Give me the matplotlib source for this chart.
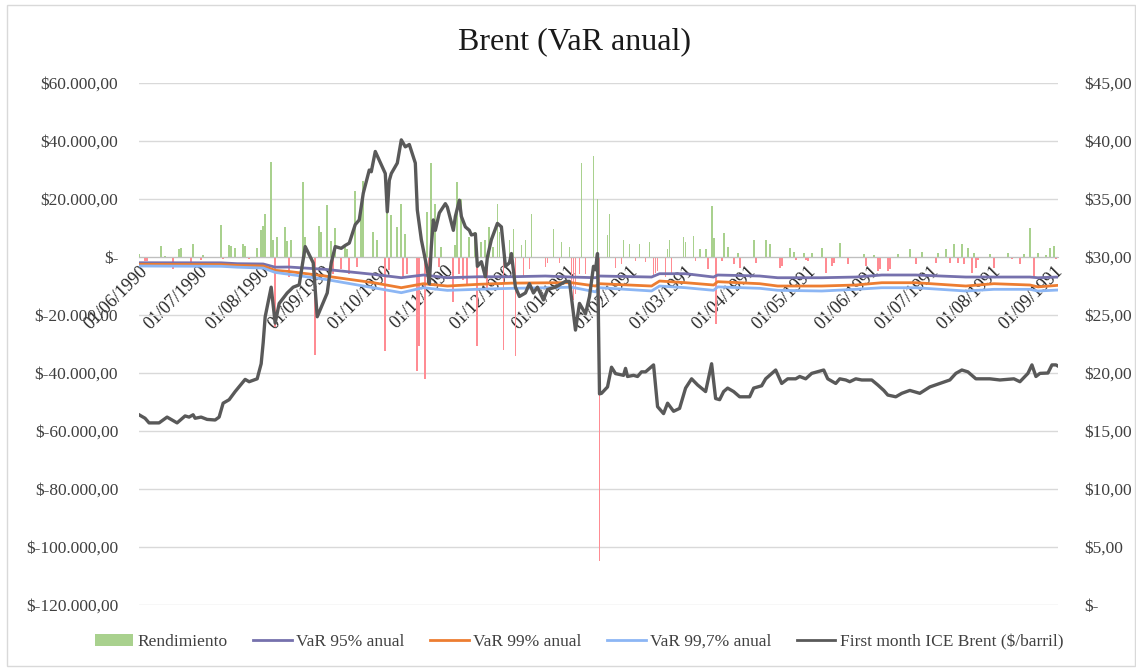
import numpy as np
import pandas as pd
import matplotlib
matplotlib.use("Agg")
import matplotlib.pyplot as plt
import matplotlib.dates as mdates
import matplotlib.ticker as mticker
from matplotlib.patches import Patch, Rectangle
from matplotlib.lines import Line2D

plt.rcParams['font.family'] = ['Liberation Serif', 'DejaVu Serif']

# daily return bars (Rendimiento)
ret_dates = [
    "1990-06-01", "1990-06-04", "1990-06-05", "1990-06-12", "1990-06-14", "1990-06-18", "1990-06-21",
    "1990-06-22", "1990-06-27", "1990-06-28", "1990-07-02", "1990-07-03", "1990-07-12", "1990-07-13",
    "1990-07-16", "1990-07-17", "1990-07-19", "1990-07-23", "1990-07-24", "1990-07-26", "1990-07-30",
    "1990-08-01", "1990-08-02", "1990-08-03", "1990-08-06", "1990-08-07", "1990-08-08", "1990-08-09",
    "1990-08-13", "1990-08-14", "1990-08-15", "1990-08-16", "1990-08-22", "1990-08-23", "1990-08-28",
    "1990-08-30", "1990-08-31", "1990-09-03", "1990-09-05", "1990-09-06", "1990-09-07", "1990-09-10",
    "1990-09-12", "1990-09-13", "1990-09-14", "1990-09-17", "1990-09-18", "1990-09-20", "1990-09-21",
    "1990-09-26", "1990-09-28", "1990-10-02", "1990-10-03", "1990-10-04", "1990-10-05", "1990-10-08",
    "1990-10-10", "1990-10-11", "1990-10-12", "1990-10-13", "1990-10-18", "1990-10-19", "1990-10-22",
    "1990-10-23", "1990-10-24", "1990-10-25", "1990-10-27", "1990-10-29", "1990-10-30", "1990-11-05",
    "1990-11-06", "1990-11-07", "1990-11-08", "1990-11-09", "1990-11-10", "1990-11-12", "1990-11-13",
    "1990-11-16", "1990-11-17", "1990-11-19", "1990-11-21", "1990-11-22", "1990-11-23", "1990-11-25",
    "1990-11-27", "1990-11-28", "1990-11-30", "1990-12-03", "1990-12-05", "1990-12-06", "1990-12-09",
    "1990-12-10", "1990-12-11", "1990-12-13", "1990-12-14", "1990-12-21", "1990-12-22", "1990-12-25",
    "1990-12-28", "1990-12-29", "1991-01-02", "1991-01-03", "1991-01-04", "1991-01-05", "1991-01-07",
    "1991-01-08", "1991-01-10", "1991-01-14", "1991-01-16", "1991-01-17", "1991-01-21", "1991-01-22",
    "1991-01-25", "1991-01-28", "1991-01-29", "1991-02-01", "1991-02-04", "1991-02-06", "1991-02-09",
    "1991-02-11", "1991-02-13", "1991-02-14", "1991-02-15", "1991-02-19", "1991-02-20", "1991-02-21",
    "1991-02-22", "1991-02-28", "1991-03-01", "1991-03-05", "1991-03-06", "1991-03-08", "1991-03-11",
    "1991-03-12", "1991-03-14", "1991-03-15", "1991-03-16", "1991-03-19", "1991-03-20", "1991-03-22",
    "1991-03-25", "1991-03-27", "1991-03-28", "1991-04-04", "1991-04-05", "1991-04-10", "1991-04-12",
    "1991-04-17", "1991-04-18", "1991-04-22", "1991-04-24", "1991-04-25", "1991-04-29", "1991-04-30",
    "1991-05-01", "1991-05-03", "1991-05-08", "1991-05-10", "1991-05-13", "1991-05-14", "1991-05-17",
    "1991-05-21", "1991-05-29", "1991-05-30", "1991-06-03", "1991-06-05", "1991-06-06", "1991-06-10",
    "1991-06-11", "1991-06-15", "1991-06-21", "1991-06-24", "1991-06-27", "1991-07-04", "1991-07-05",
    "1991-07-09", "1991-07-11", "1991-07-13", "1991-07-15", "1991-07-17", "1991-07-18", "1991-07-20",
    "1991-07-22", "1991-07-23", "1991-07-24", "1991-07-25", "1991-07-31", "1991-08-02", "1991-08-09",
    "1991-08-11", "1991-08-15", "1991-08-17", "1991-08-20", "1991-08-22", "1991-08-24", "1991-08-28",
    "1991-08-30", "1991-09-01", "1991-09-02",
]
ret_values = [
    900, -1400, -1200, 3800, 500, -4200, 2600,
    3200, -1600, 4600, -1100, 700, 10900, -800,
    4000, 3800, 3000, 4600, 3800, -700, 3000,
    9200, 10700, 14900, 32900, 5700, -24300, 6900,
    10300, 5500, -7000, 6000, 25800, 6800, -33900,
    10800, 8800, 18000, 5500, -5700, 10100, -4000,
    3800, 2600, -5700, 22700, -3400, 17200, 26300,
    8800, 6000, -32400, 19500, -4600, 14500, 10500,
    18200, -6900, 8000, -5700, -39300, -30700, -42100,
    15500, -5700, 32400, 18400, -3400, 3400, -15500,
    4000, 25900, -5700, 20100, -8000, -9200, 6900,
    8600, -30700, 5200, 5700, -10900, 10300, 3400,
    18200, 8600, -32100, 5700, 9800, -34100, 4000,
    -6900, 5700, -4000, 14700, -3400, -2000, 9800,
    -2000, 5200, 3400, -11500, -14900, -12600, -5700,
    32400, -5700, 34700, 20100, -104800, 7500, 14900,
    -3700, -2500, 5700, 4600, -1500, 4400, -1800,
    5200, -6900, -5400, -4800, -6900, 2900, 6000,
    -6000, 6900, 5200, 7200, -1500, 2600, 2600,
    -4200, 17600, 6700, -23200, -1500, 8400, 3400,
    -2300, 1500, -3700, 6000, -2000, 6000, 4600,
    -3700, -3000, 3200, 1800, -1000, 1500, -1000,
    -1500, 1500, 3000, -5400, -3100, -2200, 4900,
    -2500, 1000, -3100, 600, -4800, -4000, -4800,
    -4200, 1000, 2600, -2500, 1800, -2000, 1500,
    2600, -2000, 4400, -2000, 4400, -2500, 3000,
    -5400, 1500, -3700, -1000, 1000, -3700, 1500,
    -800, -2300, 1000, 10100, -7100, 1500, 700,
    3000, 3800, -800,
]

# annual VaR lines
var_dates = [
    "1990-06-01", "1990-07-12", "1990-07-20", "1990-08-02", "1990-08-08", "1990-08-15", "1990-09-02",
    "1990-09-26", "1990-10-10", "1990-10-21", "1990-11-02", "1990-11-18", "1990-12-04", "1990-12-21",
    "1991-01-03", "1991-01-15", "1991-01-17", "1991-02-12", "1991-02-16", "1991-03-01", "1991-03-15",
    "1991-03-17", "1991-04-07", "1991-04-16", "1991-05-08", "1991-05-25", "1991-06-07", "1991-06-24",
    "1991-07-19", "1991-08-02", "1991-08-20", "1991-08-24", "1991-09-03",
]
var95 = [
    -1970, -2000, -2300, -2400, -3500, -3450, -4250,
    -5970, -7130, -6200, -7130, -6800, -6800, -6550,
    -6900, -7130, -6550, -6900, -5750, -5750, -6900,
    -6200, -6550, -7140, -7140, -6900, -6200, -6200,
    -6900, -6900, -6900, -7140, -6900,
]
var99 = [
    -2520, -2600, -2900, -3100, -4600, -5000, -6550,
    -8850, -10580, -9200, -10000, -9400, -9000, -8900,
    -8850, -10000, -9200, -10000, -8280, -8850, -9650,
    -8500, -9200, -10000, -10000, -9650, -8860, -8860,
    -10000, -9200, -9650, -10300, -9760,
]
var997 = [
    -3100, -3200, -3500, -3800, -5300, -5970, -7700,
    -10580, -12300, -10580, -11500, -11100, -10800, -10600,
    -10400, -12000, -10580, -11700, -10000, -10580, -11480,
    -10300, -10790, -11480, -11720, -11140, -10590, -10590,
    -11720, -11140, -11140, -11720, -11380,
]

# first month ICE Brent ($/barril), right axis
brent_dates = [
    "1990-06-01", "1990-06-04", "1990-06-06", "1990-06-11", "1990-06-15", "1990-06-20", "1990-06-24",
    "1990-06-26", "1990-06-28", "1990-06-29", "1990-07-02", "1990-07-05", "1990-07-09", "1990-07-11",
    "1990-07-13", "1990-07-16", "1990-07-19", "1990-07-24", "1990-07-26", "1990-07-30", "1990-08-01",
    "1990-08-02", "1990-08-03", "1990-08-06", "1990-08-08", "1990-08-10", "1990-08-14", "1990-08-17",
    "1990-08-20", "1990-08-23", "1990-08-27", "1990-08-29", "1990-09-03", "1990-09-05", "1990-09-07",
    "1990-09-10", "1990-09-12", "1990-09-14", "1990-09-17", "1990-09-19", "1990-09-21", "1990-09-24",
    "1990-09-25", "1990-09-27", "1990-10-02", "1990-10-03", "1990-10-04", "1990-10-05", "1990-10-08",
    "1990-10-10", "1990-10-12", "1990-10-14", "1990-10-17", "1990-10-18", "1990-10-20", "1990-10-23",
    "1990-10-24", "1990-10-25", "1990-10-26", "1990-10-27", "1990-10-29", "1990-11-01", "1990-11-02",
    "1990-11-05", "1990-11-06", "1990-11-08", "1990-11-09", "1990-11-11", "1990-11-13", "1990-11-14",
    "1990-11-16", "1990-11-17", "1990-11-19", "1990-11-21", "1990-11-22", "1990-11-24", "1990-11-27",
    "1990-11-29", "1990-12-01", "1990-12-03", "1990-12-04", "1990-12-06", "1990-12-08", "1990-12-11",
    "1990-12-13", "1990-12-15", "1990-12-17", "1990-12-20", "1990-12-22", "1990-12-26", "1990-12-31",
    "1991-01-02", "1991-01-05", "1991-01-07", "1991-01-10", "1991-01-12", "1991-01-14", "1991-01-15",
    "1991-01-16", "1991-01-17", "1991-01-18", "1991-01-21", "1991-01-23", "1991-01-25", "1991-01-29",
    "1991-01-30", "1991-01-31", "1991-02-03", "1991-02-05", "1991-02-07", "1991-02-09", "1991-02-13",
    "1991-02-15", "1991-02-18", "1991-02-20", "1991-02-23", "1991-02-26", "1991-03-01", "1991-03-04",
    "1991-03-07", "1991-03-11", "1991-03-14", "1991-03-16", "1991-03-18", "1991-03-20", "1991-03-22",
    "1991-03-25", "1991-03-28", "1991-04-02", "1991-04-04", "1991-04-08", "1991-04-10", "1991-04-14",
    "1991-04-15", "1991-04-18", "1991-04-21", "1991-04-25", "1991-04-27", "1991-04-30", "1991-05-03",
    "1991-05-09", "1991-05-11", "1991-05-15", "1991-05-17", "1991-05-20", "1991-05-22", "1991-05-25",
    "1991-05-28", "1991-06-02", "1991-06-05", "1991-06-08", "1991-06-10", "1991-06-14", "1991-06-17",
    "1991-06-21", "1991-06-26", "1991-07-01", "1991-07-06", "1991-07-11", "1991-07-14", "1991-07-17",
    "1991-07-20", "1991-07-24", "1991-07-31", "1991-08-05", "1991-08-12", "1991-08-15", "1991-08-19",
    "1991-08-21", "1991-08-23", "1991-08-25", "1991-08-29", "1991-08-31", "1991-09-02", "1991-09-03",
]
brent_values = [
    16.4, 16.1, 15.7, 15.7, 16.2, 15.7, 16.3,
    16.2, 16.4, 16.1, 16.2, 16.0, 15.95, 16.2,
    17.4, 17.7, 18.4, 19.45, 19.25, 19.5, 20.8,
    22.6, 24.85, 27.4, 24.3, 26.0, 26.9, 27.4,
    27.6, 30.9, 29.5, 24.85, 26.9, 29.5, 30.9,
    30.75, 31.0, 31.2, 32.8, 33.2, 35.5, 37.5,
    37.35, 39.1, 37.2, 33.9, 36.6, 37.2, 38.1,
    40.1, 39.5, 39.7, 38.1, 34.05, 31.5, 28.9,
    27.7, 30.9, 33.2, 32.3, 33.8, 34.6, 34.3,
    32.3, 33.5, 34.9, 33.5, 32.6, 32.3, 31.9,
    32.0, 29.2, 29.6, 28.3, 30.0, 31.5, 32.9,
    32.6, 29.2, 29.5, 30.3, 27.4, 26.6, 26.9,
    27.7, 26.9, 27.4, 26.3, 27.2, 27.4, 27.9,
    27.9, 23.7, 26.0, 25.1, 26.6, 29.2, 28.9,
    30.3, 18.2, 18.25, 18.8, 20.5, 19.95, 19.8,
    20.4, 19.7, 19.8, 19.7, 20.1, 20.1, 20.7,
    17.1, 16.5, 17.4, 16.7, 16.95, 18.7, 19.5,
    18.97, 18.4, 20.8, 17.8, 17.7, 18.4, 18.7,
    18.4, 17.95, 17.95, 18.7, 18.9, 19.5, 20.1,
    20.26, 19.1, 19.5, 19.5, 19.7, 19.5, 19.97,
    20.26, 19.5, 19.1, 19.5, 19.4, 19.25, 19.5,
    19.4, 19.4, 18.97, 18.5, 18.1, 17.95, 18.25,
    18.5, 18.25, 18.8, 19.1, 19.4, 19.97, 20.26,
    20.1, 19.5, 19.5, 19.4, 19.5, 19.25, 19.97,
    20.7, 19.7, 19.97, 20.0, 20.7, 20.7, 20.6,
]

tick_dates = pd.date_range("1990-06-01", "1991-09-01", freq="MS")

ret_x = pd.to_datetime(ret_dates)
var_x = pd.to_datetime(var_dates)
brent_x = pd.to_datetime(brent_dates)

green = '#a9d18e'
red = '#ff8c93'
c95 = '#7671ad'
c99 = '#ed7d31'
c997 = '#8cb6f4'
cbrent = '#595959'


def money_left(v, pos):
    if abs(v) < 1e-6:
        return '$-'
    s = f'{abs(v):,.2f}'.replace(',', 'X').replace('.', ',').replace('X', '.')
    return ('$-' if v < 0 else '$') + s


def money_right(v, pos):
    if abs(v) < 1e-6:
        return '$-'
    return '$' + f'{v:.2f}'.replace('.', ',')


fig = plt.figure(figsize=(11.36, 6.68), dpi=100)
ax = fig.add_axes([0.1224, 0.0943, 0.8089, 0.7814])

# bars
colors = [green if v > 0 else red for v in ret_values]
ax.bar(ret_x, ret_values, width=0.9, color=colors, linewidth=0, zorder=2)

ax.plot(var_x, var95, color=c95, lw=2, zorder=3)
ax.plot(var_x, var99, color=c99, lw=2, zorder=3)
ax.plot(var_x, var997, color=c997, lw=2, zorder=3)

ax.set_ylim(-120000, 60000)
ax.set_yticks(np.arange(-120000, 60001, 20000))
ax.yaxis.set_major_formatter(mticker.FuncFormatter(money_left))
ax.grid(axis='y', color='#d9d9d9', lw=1)
ax.set_axisbelow(True)

ax.set_xlim(pd.Timestamp("1990-06-01"), pd.Timestamp("1991-09-03"))
ax.set_xticks(tick_dates)
ax.xaxis.set_major_formatter(mdates.DateFormatter('%d/%m/%Y'))

for s in ['top', 'left', 'right']:
    ax.spines[s].set_visible(False)
ax.spines['bottom'].set_position(('data', 0))
ax.spines['bottom'].set_color('#bfbfbf')
ax.tick_params(axis='y', length=0, pad=15, labelsize=12.5, labelcolor='#404040')
ax.tick_params(axis='x', length=0, pad=4, labelsize=13, labelcolor='#262626')
for lab in ax.get_xticklabels():
    lab.set_rotation(45)
    lab.set_ha('right')
    lab.set_va('top')
    lab.set_rotation_mode('anchor')

# price on secondary axis
ax2 = ax.twinx()
ax2.plot(brent_x, brent_values, color=cbrent, lw=2.4, zorder=4)
ax2.set_ylim(0, 45)
ax2.set_yticks(np.arange(0, 46, 5))
ax2.yaxis.set_major_formatter(mticker.FuncFormatter(money_right))
ax2.tick_params(axis='y', length=0, pad=19, labelsize=12.5, labelcolor='#404040')
for s in ax2.spines.values():
    s.set_visible(False)

fig.text(0.506, 0.937, 'Brent (VaR anual)', ha='center', va='center', fontsize=23, color='#1a1a1a')

handles = [
    Patch(facecolor=green, edgecolor='none'),
    Line2D([], [], color=c95, lw=2),
    Line2D([], [], color=c99, lw=2),
    Line2D([], [], color=c997, lw=2),
    Line2D([], [], color=cbrent, lw=2),
]
labels = ['Rendimiento', 'VaR 95% anual', 'VaR 99% anual', 'VaR 99,7% anual',
          'First month ICE Brent ($/barril)']
fig.legend(handles, labels, loc='center', bbox_to_anchor=(0.5097, 0.039), ncol=5,
           frameon=False, fontsize=12.5, handlelength=2.2, handletextpad=0.25,
           columnspacing=1.5, labelcolor='#404040')

# chart area frame
fig.patches.append(Rectangle((7 / 1136, 1 - 666 / 668), 1128 / 1136, 661 / 668,
                             transform=fig.transFigure, fill=False,
                             edgecolor='#d9d9d9', lw=1))

fig.savefig('out.png', dpi=100)
